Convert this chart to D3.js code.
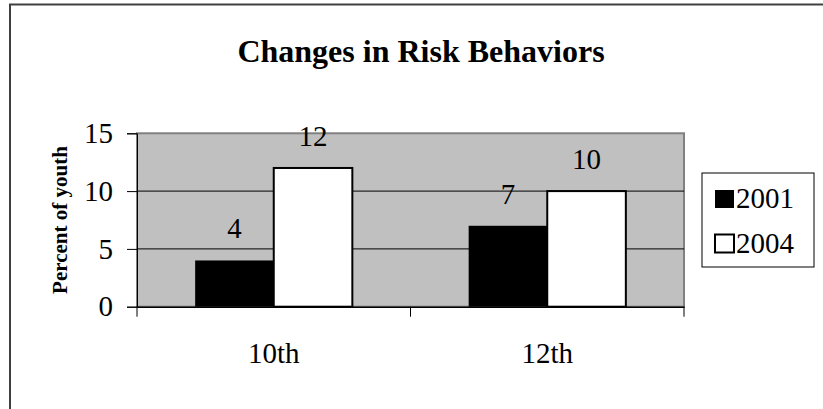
<!DOCTYPE html>
<html>
<head>
<meta charset="utf-8">
<script src="https://cdn.jsdelivr.net/npm/d3@7"></script>
<style>
  html, body { margin: 0; padding: 0; background: #fff; }
  svg { display: block; }
  svg text { font-family: "Liberation Serif", "Times New Roman", serif !important; }
</style>
</head>
<body>
<svg id="chart" width="823" height="409"></svg>
<script>
// Percent of youth reporting the behavior, by grade and survey year
const grades = ["10th", "12th"];
const years = ["2001", "2004"];
const values2001 = [4, 7];
const values2004 = [12, 10];
const yTicks = [0, 5, 10, 15];

const seriesValues = { "2001": values2001, "2004": values2004 };
const fills = { "2001": "#000000", "2004": "#ffffff" };

const svg = d3.select("#chart");

// frame around the whole chart (extends past the window on right/bottom)
svg.append("rect")
  .attr("x", 10).attr("y", 4.5)
  .attr("width", 1000).attr("height", 1000)
  .attr("fill", "#fff")
  .attr("stroke", "#404040").attr("stroke-width", 2);

const plot = { left: 137, right: 684, top: 133.3, bottom: 306.7 };

const x = d3.scaleBand().domain(grades).range([plot.left, plot.right]).padding(0);
const x1 = d3.scaleBand().domain(years).range([0, x.bandwidth()]).paddingInner(0).paddingOuter(0.74);
const y = d3.scaleLinear().domain([0, 15]).range([plot.bottom, plot.top]);

// title
svg.append("text")
  .attr("x", 421).attr("y", 61.7)
  .attr("text-anchor", "middle")
  .attr("font-weight", "bold")
  .attr("font-size", 32)
  .text("Changes in Risk Behaviors");

// plot background
svg.append("rect")
  .attr("x", plot.left).attr("y", plot.top)
  .attr("width", plot.right - plot.left).attr("height", plot.bottom - plot.top)
  .attr("fill", "#c0c0c0")
  .attr("stroke", "#808080").attr("stroke-width", 2);

// horizontal gridlines
svg.append("g")
  .selectAll("line")
  .data(yTicks.filter(t => t > 0 && t < 15))
  .join("line")
  .attr("x1", plot.left).attr("x2", plot.right)
  .attr("y1", d => y(d)).attr("y2", d => y(d))
  .attr("stroke", "#000").attr("stroke-width", 1);

// bars
const groups = svg.append("g")
  .selectAll("g")
  .data(grades)
  .join("g")
  .attr("transform", d => `translate(${x(d)},0)`);

groups.selectAll("rect")
  .data((g, i) => years.map(yr => ({ year: yr, value: seriesValues[yr][i] })))
  .join("rect")
  .attr("x", d => x1(d.year))
  .attr("width", x1.bandwidth())
  .attr("y", d => y(d.value))
  .attr("height", d => y(0) - y(d.value))
  .attr("fill", d => fills[d.year])
  .attr("stroke", "#000")
  .attr("stroke-width", d => d.year === "2004" ? 2 : 0);

// value labels above bars
groups.selectAll("text")
  .data((g, i) => years.map(yr => ({ year: yr, value: seriesValues[yr][i] })))
  .join("text")
  .attr("x", d => x1(d.year) + x1.bandwidth() / 2)
  .attr("y", d => y(d.value) - 22)
  .attr("text-anchor", "middle")
  .attr("font-size", 29)
  .text(d => d.value);

// y axis
const yAxis = svg.append("g")
  .attr("transform", `translate(${plot.left},0)`)
  .call(d3.axisLeft(y).tickValues(yTicks).tickSize(10).tickPadding(14).tickFormat(d3.format("d")));
yAxis.attr("font-family", null);
yAxis.select(".domain").attr("stroke", "#000").attr("stroke-width", 1);
yAxis.selectAll(".tick line").attr("stroke", "#000");
yAxis.selectAll(".tick text")
  .attr("font-size", 29).attr("fill", "#000");

// x axis
const xAxis = svg.append("g")
  .attr("transform", `translate(0,${plot.bottom})`)
  .call(d3.axisBottom(x).tickSize(0).tickPadding(36));
xAxis.attr("font-family", null);
xAxis.select(".domain").attr("stroke", "#000").attr("stroke-width", 1.5);
xAxis.selectAll(".tick text")
  .attr("font-size", 29).attr("fill", "#000");

// category divider ticks
const bounds = grades.map(g => x(g)).concat([x.range()[1]]);
xAxis.selectAll("line.divider")
  .data(bounds)
  .join("line")
  .attr("class", "divider")
  .attr("x1", d => d).attr("x2", d => d)
  .attr("y1", 0).attr("y2", 10)
  .attr("stroke", "#000").attr("stroke-width", 1);

// y axis title
svg.append("text")
  .attr("transform", "translate(67,220) rotate(-90)")
  .attr("text-anchor", "middle")
  .attr("font-weight", "bold")
  .attr("font-size", 21)
  .text("Percent of youth");

// legend
const legend = svg.append("g");
legend.append("rect")
  .attr("x", 702).attr("y", 173)
  .attr("width", 112).attr("height", 94)
  .attr("fill", "#fff")
  .attr("stroke", "#000").attr("stroke-width", 1);

const items = legend.selectAll("g.item")
  .data(years)
  .join("g")
  .attr("class", "item")
  .attr("transform", (d, i) => `translate(0,${i * 44.5})`);

items.append("rect")
  .attr("x", 715).attr("y", 190)
  .attr("width", 19).attr("height", 18)
  .attr("fill", d => fills[d])
  .attr("stroke", "#000")
  .attr("stroke-width", d => d === "2004" ? 2 : 0);

items.append("text")
  .attr("x", 736).attr("y", 208.3)
  .attr("font-size", 29)
  .text(d => d);
</script>
</body>
</html>
